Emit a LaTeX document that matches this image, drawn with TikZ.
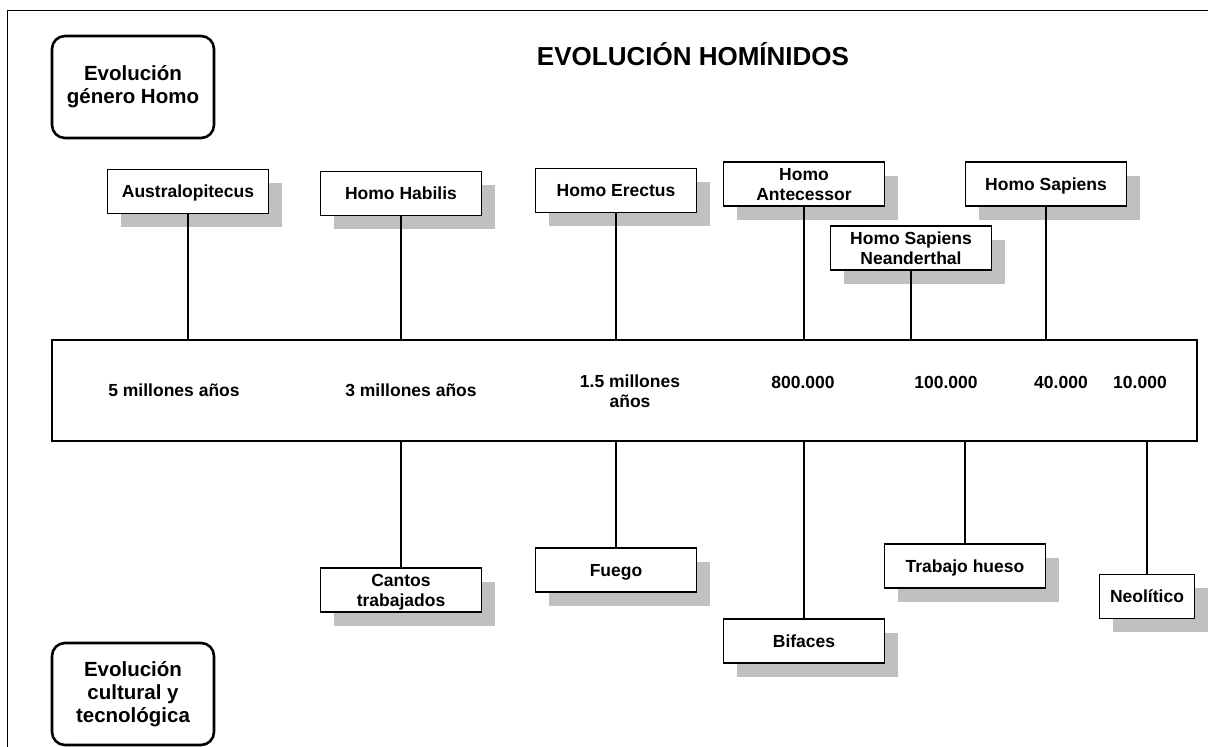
\documentclass[tikz,border=0pt]{standalone}
\usepackage{fontspec}
\setmainfont{Liberation Sans}
\usetikzlibrary{shadows}
\definecolor{shadowgray}{HTML}{C0C0C0}
\begin{document}
\begin{tikzpicture}[x=1pt,y=-1pt,
  every node/.style={font=\bfseries\fontsize{17.5}{19.5}\selectfont, align=center, inner sep=0pt},
  one/.style={text height=12.6pt, text depth=0pt},
  two/.style={text height=32.1pt, text depth=0pt},
  hbox/.style={draw, line width=1.3pt, fill=white, minimum width=161pt, minimum height=44pt,
    general shadow={fill=shadowgray, draw=none, shadow xshift=13.5pt, shadow yshift=-13.5pt}},
  rbox/.style={draw, line width=2.6pt, rounded corners=13pt, minimum width=162pt, minimum height=102pt,
    font=\bfseries\fontsize{20.5}{22.7}\selectfont},
  conn/.style={line width=2pt}]
\useasboundingbox (0,0) rectangle (1208,747);
% frame (cropped)
\draw[line width=1.8pt] (7.5,747) -- (7.5,10.5) -- (1208,10.5);
% title
\node (title) at (693,54) {\fontsize{26}{30}\selectfont EVOLUCIÓN HOMÍNIDOS};
% side boxes
\node[rbox] (gh) at (133,87) {Evolución\\género Homo};
\node[rbox] (ct) at (133,694) {Evolución\\cultural y\\tecnológica};
% timeline
\node[draw, line width=1.4pt, minimum width=1145pt, minimum height=101pt] (tl) at (624.5,390.5) {};
\node[one] (t1) at (174,390.5) {5 millones años};
\node[one] (t2) at (411,390.5) {3 millones años};
\node[two] (t3) at (630,391) {1.5 millones\\años};
\node[one] (t4) at (803,382) {800.000};
\node[one] (t5) at (946,382) {100.000};
\node[one] (t6) at (1061,382) {40.000};
\node[one] (t7) at (1140,382) {10.000};
% top boxes
\node[hbox, one] (aus) at (188,191.5) {Australopitecus};
\node[hbox, one] (hab) at (401,193.5) {Homo Habilis};
\node[hbox, one] (ere) at (616,190.5) {Homo Erectus};
\node[hbox, two] (ant) at (804,184) {Homo\\Antecessor};
\node[hbox, two] (nea) at (911,248) {Homo Sapiens\\Neanderthal};
\node[hbox, one] (sap) at (1046,184) {Homo Sapiens};
% bottom boxes
\node[hbox, two] (can) at (401,590) {Cantos\\trabajados};
\node[hbox, one] (fue) at (616,570) {Fuego};
\node[hbox, one] (bif) at (804,641) {Bifaces};
\node[hbox, one] (tra) at (965,566) {Trabajo hueso};
\node[hbox, one, minimum width=95pt] (neo) at (1147,596.5) {Neolítico};
% connectors top
\foreach \b in {aus,hab,ere,ant,nea,sap}
  \draw[conn] (\b.south) -- (\b.south |- tl.north);
% connectors bottom
\foreach \b in {can,fue,bif,tra,neo}
  \draw[conn] (\b.north |- tl.south) -- (\b.north);
\end{tikzpicture}
\end{document}
